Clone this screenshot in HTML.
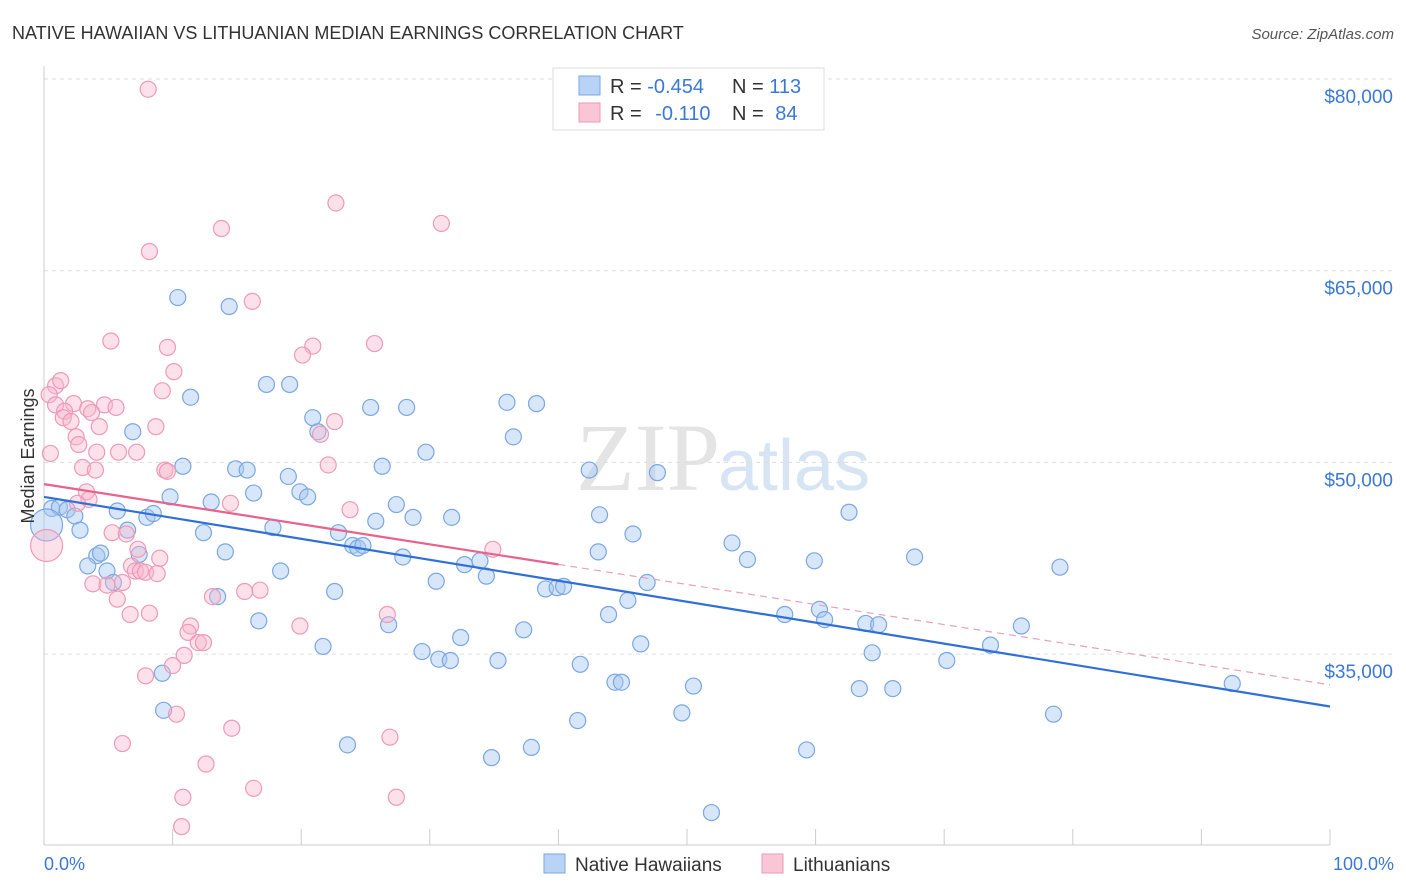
<!DOCTYPE html>
<html><head><meta charset="utf-8">
<style>
body{margin:0;background:#fff;font-family:"Liberation Sans",sans-serif;}
svg{display:block}
</style></head><body>
<svg id="chart" width="1406" height="892">
<text x="12" y="39" font-size="18" fill="#333">NATIVE HAWAIIAN VS LITHUANIAN MEDIAN EARNINGS CORRELATION CHART</text>
<text x="1394" y="39" font-size="15" fill="#555" font-style="italic" text-anchor="end">Source: ZipAtlas.com</text>
<text x="720" y="490" font-size="96" fill="#e4e4e4" text-anchor="end" font-family="Liberation Serif">ZIP</text>
<text x="718" y="490" font-size="72" fill="#d6e4f4">atlas</text>
<g id="grid"></g>
<g id="axes"></g>
<g id="marks"></g>
<text transform="translate(34,456) rotate(-90)" font-size="18" fill="#333" text-anchor="middle">Median Earnings</text>
<text x="44" y="870" font-size="18" fill="#3b78d6">0.0%</text>
<text x="1394" y="870" font-size="18" fill="#3b78d6" text-anchor="end">100.0%</text>
<g>
<rect x="553" y="68" width="271" height="62" fill="#fff" stroke="#ddd"/>
<rect x="579" y="76" width="21" height="19" fill="#b8d3f5" stroke="#7aa7e3"/>
<rect x="579" y="103" width="21" height="19" fill="#f9c6d5" stroke="#ee9ab5"/>
<text x="610" y="93" font-size="20" fill="#333">R = <tspan fill="#3b78d6">-0.454</tspan></text>
<text x="732" y="93" font-size="20" fill="#333">N = <tspan fill="#3b78d6">113</tspan></text>
<text x="610" y="120" font-size="20" fill="#333">R = <tspan fill="#3b78d6" dx="8">-0.110</tspan></text>
<text x="732" y="120" font-size="20" fill="#333">N = <tspan fill="#3b78d6" dx="6">84</tspan></text>
</g>
<g>
<rect x="544" y="854" width="21" height="19" fill="#b8d3f5" stroke="#7aa7e3"/>
<text x="575" y="871" font-size="19" fill="#333">Native Hawaiians</text>
<rect x="762" y="854" width="21" height="19" fill="#f9c6d5" stroke="#ee9ab5"/>
<text x="793" y="871" font-size="19" fill="#333">Lithuanians</text>
</g>
</svg>
<script>
const yTicks=[35,50,65,80];
const yTickLabels=["$35,000","$50,000","$65,000","$80,000"];
const xTicks=[10,20,30,40,50,60,70,80,90,100];
const blueX=[0.6,1.2,1.8,2.4,2.8,4.1,4.4,3.4,4.9,5.4,5.7,6.5,6.9,7.4,8.0,8.5,9.2,9.3,9.8,10.4,10.8,11.4,12.4,13.0,13.5,14.1,14.4,14.9,15.8,16.3,16.7,17.3,17.8,18.4,19.1,19.0,19.9,20.5,20.9,21.3,21.7,22.6,22.9,23.6,24.0,24.4,24.8,25.4,25.8,26.3,26.8,27.4,27.9,28.2,28.7,29.7,29.4,30.5,30.7,31.6,31.7,32.4,32.7,33.9,34.4,34.8,35.3,36.0,36.5,37.3,37.9,38.3,39.0,39.9,40.4,41.7,41.5,42.4,43.1,43.2,43.9,44.4,44.9,45.4,45.8,46.4,46.9,47.7,49.6,50.5,51.9,53.5,54.7,57.6,59.3,59.9,60.3,60.7,62.6,63.4,63.9,64.4,64.9,66.0,67.7,70.2,73.6,76.0,78.5,79.0,92.4];
const blueY=[46.4,46.5,46.3,45.8,44.7,42.7,42.9,41.9,41.5,40.6,46.2,44.7,52.4,42.8,45.7,46.0,33.5,30.6,47.3,62.9,49.7,55.1,44.5,46.9,39.5,43.0,62.2,49.5,49.4,47.6,37.6,56.1,44.9,41.5,56.1,48.9,47.7,47.3,53.5,52.4,35.6,39.9,44.5,27.9,43.5,43.3,43.5,54.3,45.4,49.7,37.3,46.7,42.6,54.3,45.7,50.8,35.2,40.7,34.6,34.5,45.7,36.3,42.0,42.3,41.1,26.9,34.5,54.7,52.0,36.9,27.7,54.6,40.1,40.2,40.3,34.2,29.8,49.4,43.0,45.9,38.1,32.8,32.8,39.2,44.4,35.8,40.6,49.2,30.4,32.5,22.6,43.7,42.4,38.1,27.5,42.3,38.5,37.7,46.1,32.3,37.4,35.1,37.3,32.3,42.6,34.5,35.7,37.2,30.3,41.8,32.7];
const pinkX=[8.1,22.7,13.8,30.9,8.2,16.2,5.2,20.9,25.7,9.6,20.1,10.1,0.9,1.3,9.2,0.4,0.9,4.7,5.6,2.3,3.4,1.6,3.7,1.5,2.1,4.3,8.7,22.6,21.5,2.5,2.7,0.5,5.8,7.2,4.1,3.0,4.0,9.4,9.6,22.1,3.3,3.5,2.6,14.5,23.8,5.3,6.4,7.3,9.0,6.8,7.1,7.5,7.9,8.8,3.8,4.9,6.1,16.8,15.6,13.1,5.7,6.7,8.2,26.7,19.9,11.4,11.2,12.0,12.4,10.9,10.0,7.9,10.3,14.6,6.1,12.6,16.3,10.8,27.4,10.7,26.9,34.9];
const pinkY=[79.2,70.3,68.3,68.7,66.5,62.6,59.5,59.1,59.3,59.0,58.4,57.1,56.0,56.4,55.6,55.3,54.5,54.5,54.3,54.6,54.2,54.0,53.9,53.5,53.2,52.8,52.8,53.2,52.2,52.0,51.4,50.7,50.8,50.8,50.8,49.6,49.4,49.4,49.3,49.8,47.7,47.1,46.8,46.8,46.3,44.5,44.4,43.2,42.5,41.9,41.5,41.5,41.4,41.3,40.5,40.4,40.6,40.0,39.9,39.5,39.3,38.1,38.2,38.1,37.2,37.2,36.7,35.9,35.9,34.9,34.1,33.3,30.3,29.2,28.0,26.4,24.5,23.8,23.8,21.5,28.5,43.2];
const bigBlue=[0.2,45.1];
const bigPink=[0.2,43.5];
const blueTrend=[47.3,30.9];
const pinkTrend=[48.3,32.6];
const pinkSolidEnd=40;

const NS="http://www.w3.org/2000/svg";
const X0=44,X1=1330,Ytop=79,Ybot=845;
function sx(v){return X0+(X1-X0)*v/100;}
function sy(v){return 79+(80-v)*12.78;}
function mk(tag,attrs,parent){const e=document.createElementNS(NS,tag);for(const k in attrs)e.setAttribute(k,attrs[k]);parent.appendChild(e);return e;}
const grid=document.getElementById('grid'),axes=document.getElementById('axes'),marks=document.getElementById('marks');
yTicks.forEach((t,i)=>{
 const l=mk('line',{x1:44,x2:1394,y1:sy(t),y2:sy(t),stroke:'#ddd','stroke-dasharray':'4,4'},grid);
 
 
 const tx=mk('text',{x:1393,y:sy(t)+24,'font-size':19,fill:'#3b78d6','text-anchor':'end'},axes);
 tx.textContent=yTickLabels[i];
 
 
});
const ax=mk('line',{x1:44,x2:1330,y1:Ybot,y2:Ybot,stroke:'#ccc'},axes);


const ay=mk('line',{x1:44,x2:44,y1:66,y2:Ybot,stroke:'#ccc'},axes);


xTicks.forEach(t=>{
 const l=mk('line',{x1:sx(t),x2:sx(t),y1:Ybot,y2:Ybot-16,stroke:'#ccc'},axes);
 
 
});
function dot(x,y,r,fill,stroke,name){
 const c=mk('circle',{cx:sx(x),cy:sy(y),r:r,fill:fill,stroke:stroke,'stroke-width':1.2},marks);
 
 
}
blueX.forEach((x,i)=>dot(x,blueY[i],8,'rgba(167,200,240,0.45)','#7aa7e3','native-hawaiian-point'));
pinkX.forEach((x,i)=>dot(x,pinkY[i],8,'rgba(247,180,202,0.4)','#ee9ab5','lithuanian-point'));
dot(bigBlue[0],bigBlue[1],16,'rgba(167,200,240,0.45)','#7aa7e3','native-hawaiian-point-large');
dot(bigPink[0],bigPink[1],16,'rgba(247,180,202,0.4)','#ee9ab5','lithuanian-point-large');
const bt=mk('line',{x1:sx(0),y1:sy(blueTrend[0]),x2:sx(100),y2:sy(blueTrend[1]),stroke:'#2f6fd8','stroke-width':2.2},marks);


const pe=pinkTrend[0]+(pinkTrend[1]-pinkTrend[0])*pinkSolidEnd/100;
const pt=mk('line',{x1:sx(0),y1:sy(pinkTrend[0]),x2:sx(pinkSolidEnd),y2:sy(pe),stroke:'#e8628c','stroke-width':2.2},marks);


const pd=mk('line',{x1:sx(pinkSolidEnd),y1:sy(pe),x2:sx(100),y2:sy(pinkTrend[1]),stroke:'#e8a0b8','stroke-width':1.2,'stroke-dasharray':'7,5'},marks);


</script>
</body></html>
